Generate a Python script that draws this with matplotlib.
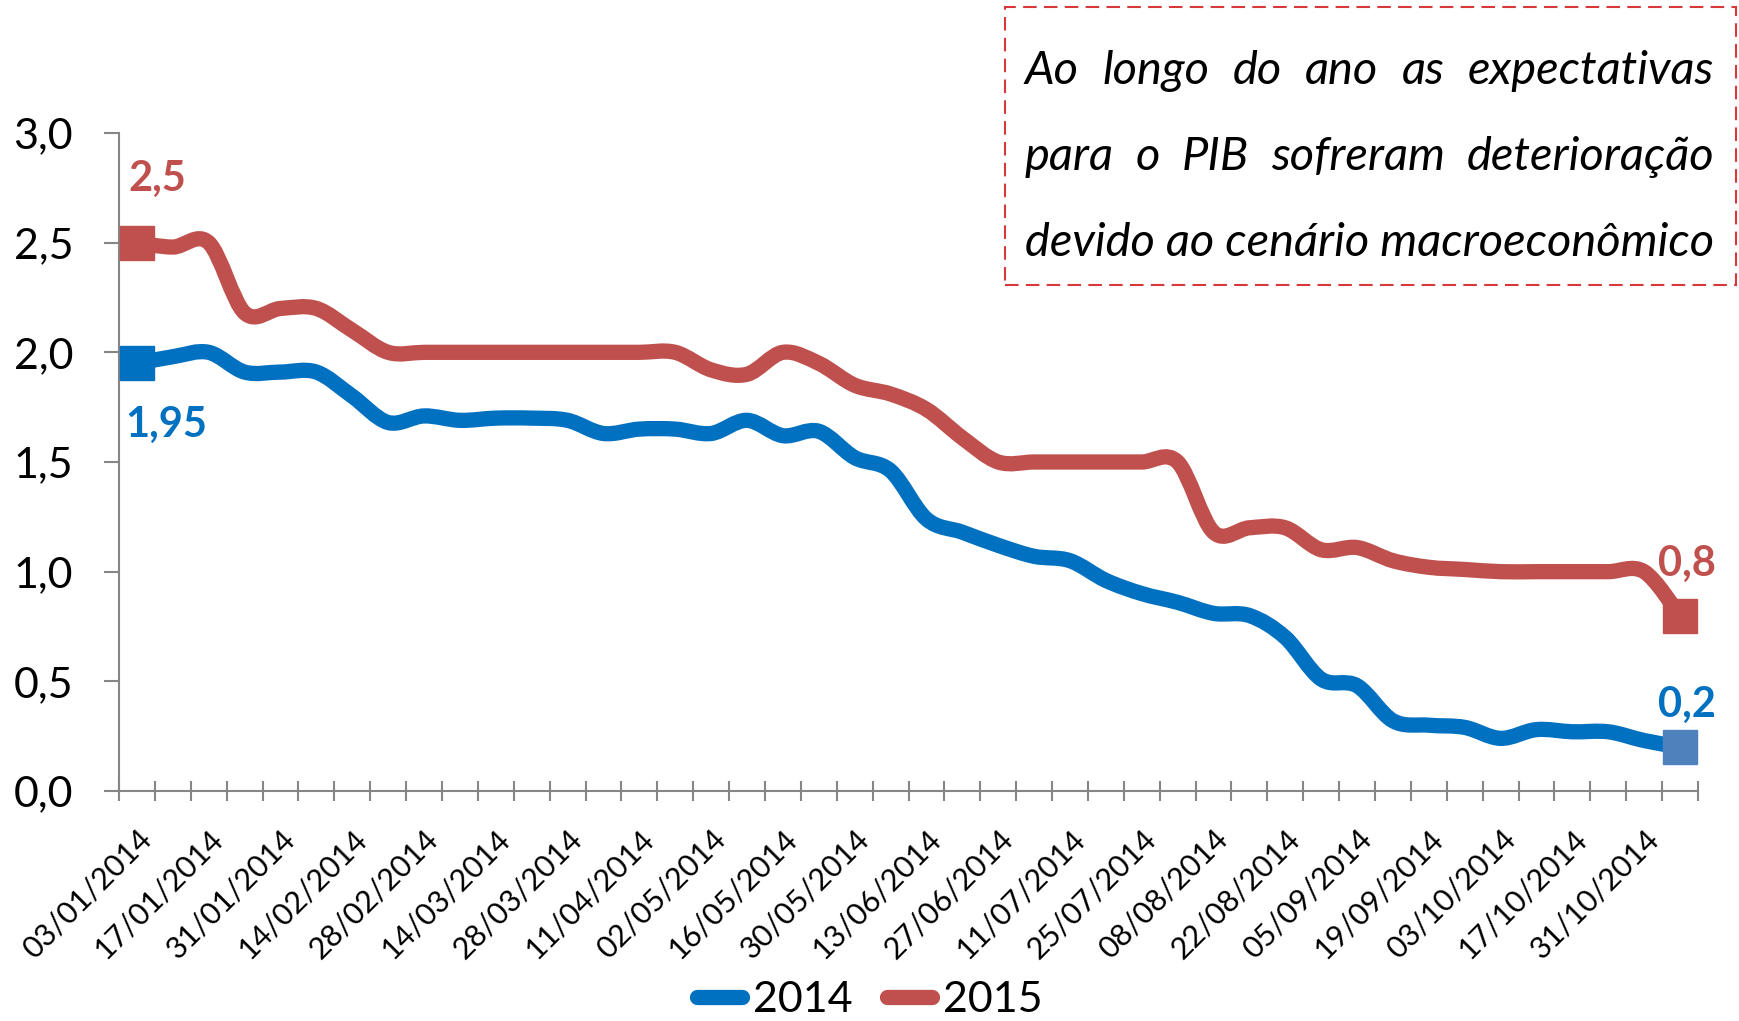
import matplotlib
matplotlib.use("Agg")
import matplotlib.pyplot as plt
import numpy as np
from matplotlib.path import Path
from matplotlib.patches import PathPatch, Rectangle
from matplotlib.lines import Line2D

plt.rcParams['font.family'] = ['Lato', 'DejaVu Sans']

# semanas do Focus (sexta-feira), 2014
datas = ["03/01/2014", "10/01/2014", "17/01/2014", "24/01/2014", "31/01/2014",
         "07/02/2014", "14/02/2014", "21/02/2014", "28/02/2014", "07/03/2014",
         "14/03/2014", "21/03/2014", "28/03/2014", "04/04/2014", "11/04/2014",
         "25/04/2014", "02/05/2014", "09/05/2014", "16/05/2014", "23/05/2014",
         "30/05/2014", "06/06/2014", "13/06/2014", "20/06/2014", "27/06/2014",
         "04/07/2014", "11/07/2014", "18/07/2014", "25/07/2014", "01/08/2014",
         "08/08/2014", "15/08/2014", "22/08/2014", "29/08/2014", "05/09/2014",
         "12/09/2014", "19/09/2014", "26/09/2014", "03/10/2014", "10/10/2014",
         "17/10/2014", "24/10/2014", "31/10/2014", "07/11/2014"]

pib_2014 = [1.95, 1.98, 2.00, 1.91, 1.91, 1.91, 1.80, 1.68, 1.71, 1.69, 1.70,
            1.70, 1.69, 1.63, 1.65, 1.65, 1.63, 1.69, 1.62, 1.64, 1.52, 1.46,
            1.24, 1.18, 1.12, 1.07, 1.05, 0.96, 0.90, 0.86, 0.81, 0.80, 0.70,
            0.51, 0.48, 0.32, 0.30, 0.29, 0.24, 0.28, 0.27, 0.27, 0.23, 0.20]

pib_2015 = [2.50, 2.48, 2.50, 2.18, 2.20, 2.20, 2.10, 2.00, 2.00, 2.00, 2.00,
            2.00, 2.00, 2.00, 2.00, 2.00, 1.92, 1.90, 2.00, 1.95, 1.85, 1.81,
            1.74, 1.61, 1.50, 1.50, 1.50, 1.50, 1.50, 1.50, 1.18, 1.20, 1.20,
            1.10, 1.11, 1.05, 1.02, 1.01, 1.00, 1.00, 1.00, 1.00, 1.00, 0.80]

rotulos_y = ["0,0", "0,5", "1,0", "1,5", "2,0", "2,5", "3,0"]
legenda = ["2014", "2015"]
texto = ["Ao longo do ano as expectativas",
         "para o PIB sofreram deterioração",
         "devido ao cenário macroeconômico"]

AZUL = "#0070C0"
AZUL_CLARO = "#4F81BD"
VERMELHO = "#C0504D"
CINZA = "#868686"

W, H = 1739, 1021


def curva_suave(xs, ys):
    # bezier estilo catmull-rom, parecido com a linha suavizada do excel
    pts = list(zip(xs, ys))
    n = len(pts)
    verts = [pts[0]]
    codes = [Path.MOVETO]
    for i in range(n - 1):
        p0 = pts[max(i - 1, 0)]
        p1 = pts[i]
        p2 = pts[i + 1]
        p3 = pts[min(i + 2, n - 1)]
        c1 = (p1[0] + (p2[0] - p0[0]) / 6, p1[1] + (p2[1] - p0[1]) / 6)
        c2 = (p2[0] - (p3[0] - p1[0]) / 6, p2[1] - (p3[1] - p1[1]) / 6)
        verts += [c1, c2, p2]
        codes += [Path.CURVE4] * 3
    return Path(verts, codes)


fig = plt.figure(figsize=(W / 100, H / 100), dpi=100)
ax = fig.add_axes([119 / W, 1 - 791 / H, (1698 - 119) / W, (791 - 133) / H])

x = list(range(len(datas)))
for serie, cor in [(pib_2014, AZUL), (pib_2015, VERMELHO)]:
    ax.add_patch(PathPatch(curva_suave(x, serie), fill=False, ec=cor, lw=11,
                           capstyle='round', joinstyle='round', zorder=3))

# marcadores nas pontas
ax.plot([x[0]], [pib_2014[0]], 's', ms=24, color=AZUL, zorder=4)
ax.plot([x[-1]], [pib_2014[-1]], 's', ms=24, color=AZUL_CLARO, zorder=4)
ax.plot([x[0]], [pib_2015[0]], 's', ms=24, color=VERMELHO, zorder=4)
ax.plot([x[-1]], [pib_2015[-1]], 's', ms=24, color=VERMELHO, zorder=4)

rot = dict(textcoords='offset pixels', ha='center', va='center',
           fontsize=30, fontweight='bold')
ax.annotate("2,5", (x[0], pib_2015[0]), xytext=(20, 64), color=VERMELHO, **rot)
ax.annotate("1,95", (x[0], pib_2014[0]), xytext=(29, -62), color=AZUL, **rot)
ax.annotate("0,8", (x[-1], pib_2015[-1]), xytext=(7, 52), color=VERMELHO, **rot)
ax.annotate("0,2", (x[-1], pib_2014[-1]), xytext=(7, 42), color=AZUL, **rot)

ax.set_xlim(-0.5, len(datas) - 0.5)
ax.set_ylim(0, 3)
ax.set_yticks(np.arange(0, 3.01, 0.5))
ax.set_yticklabels(rotulos_y)
ax.set_xticks(x[::2])
ax.set_xticklabels(datas[::2], rotation=45, ha='right', rotation_mode='anchor')
ax.set_xticks([i - 0.5 for i in range(len(datas) + 1)], minor=True)

ax.tick_params(axis='x', which='major', length=0, pad=24, labelsize=22)
ax.tick_params(axis='x', which='minor', length=14, width=1.5,
               direction='inout', color=CINZA)
ax.tick_params(axis='y', length=11, width=1.5, color=CINZA, pad=22, labelsize=31)
for s in ['top', 'right']:
    ax.spines[s].set_visible(False)
for s in ['left', 'bottom']:
    ax.spines[s].set_color(CINZA)
    ax.spines[s].set_linewidth(1.5)

handles = [Line2D([], [], color=AZUL, lw=11, solid_capstyle='round'),
           Line2D([], [], color=VERMELHO, lw=11, solid_capstyle='round')]
fig.legend(handles, legenda, loc='center', bbox_to_anchor=(0.5, 1 - 1000 / H),
           ncol=2, frameon=False, fontsize=31, handlelength=1.05,
           handletextpad=0.25, columnspacing=0.8, borderpad=0, borderaxespad=0)

# caixa de comentario
fig.patches.append(Rectangle((1005 / W, 1 - 285 / H), 731 / W, 278 / H,
                             transform=fig.transFigure, fill=False,
                             ec="#D9383A", lw=1.5, ls=(0, (6.5, 3.5))))

renderer = fig.canvas.get_renderer()
x0, x1 = 1025, 1714
# tamanho da fonte: a ultima linha ocupa a largura toda sem esticar
teste = fig.text(0, 0, texto[-1], fontsize=30, style='italic')
tam = 30 * (x1 - x0) / teste.get_window_extent(renderer).width
teste.remove()
for k, (linha, yb) in enumerate(zip(texto, [84, 170, 256])):
    if k == len(texto) - 1:
        fig.text(x0 / W, 1 - yb / H, linha, fontsize=tam, style='italic',
                 va='baseline', ha='left')
        continue
    palavras = linha.split()
    objs = [fig.text(0, 1 - yb / H, p, fontsize=tam, style='italic',
                     va='baseline', ha='left') for p in palavras]
    larg = [o.get_window_extent(renderer).width for o in objs]
    gap = (x1 - x0 - sum(larg)) / (len(palavras) - 1)
    pos = x0
    for o, w in zip(objs, larg):
        o.set_x(pos / W)
        pos += w + gap

fig.savefig("out.png", dpi=100)
